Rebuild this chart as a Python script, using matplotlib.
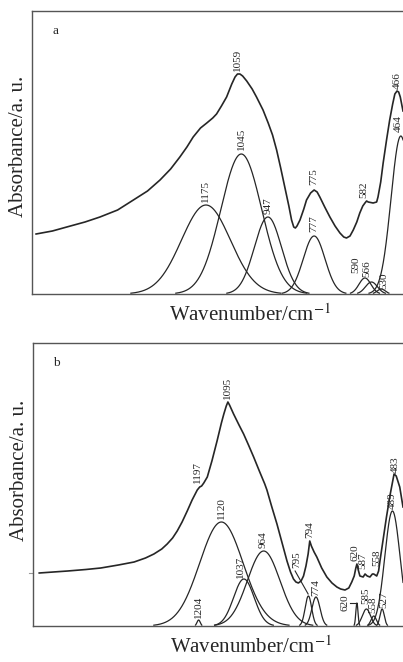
import numpy as np
import matplotlib.pyplot as plt

plt.rcParams['font.family'] = ['Liberation Serif', 'DejaVu Serif']
plt.rcParams['mathtext.fontset'] = 'stix'

# ---- panel a: measured spectrum (wavenumber, absorbance) ----
wn_a = [1800, 1740, 1687, 1620, 1565, 1500, 1442, 1390, 1344, 1305, 1271,
        1245, 1222, 1195, 1172, 1150, 1136, 1118, 1099, 1080, 1068, 1059,
        1050, 1040, 1025, 1005, 989, 965, 946, 930, 915, 900, 885, 870, 860,
        852, 846, 840, 829, 815, 805, 790, 777, 766, 756, 738, 719, 700, 682,
        668, 658, 645, 633, 620, 609, 598, 590, 584, 578, 560, 547, 542, 532,
        523, 510, 499, 488, 480, 472, 466, 460, 450]
abs_a = [0.60, 0.63, 0.67, 0.72, 0.77, 0.84, 0.94, 1.03, 1.14, 1.25, 1.37,
         1.47, 1.57, 1.66, 1.71, 1.76, 1.80, 1.88, 1.97, 2.10, 2.17, 2.20,
         2.20, 2.18, 2.13, 2.05, 1.97, 1.84, 1.71, 1.59, 1.44, 1.26, 1.07,
         0.88, 0.74, 0.67, 0.66, 0.68, 0.74, 0.85, 0.94, 1.01, 1.04, 1.02,
         0.97, 0.87, 0.77, 0.68, 0.61, 0.57, 0.56, 0.58, 0.64, 0.72, 0.81,
         0.88, 0.91, 0.93, 0.92, 0.91, 0.92, 0.97, 1.12, 1.31, 1.55, 1.74,
         1.90, 2.00, 2.03, 2.02, 1.97, 1.83]
# fitted bands: centre, height, width
pk_a = [1175, 1045, 947, 777, 590, 566, 530, 458]
ht_a = [0.89, 1.40, 0.77, 0.58, 0.16, 0.12, 0.05, 1.58]
sd_a = [90, 75, 50, 40, 22, 22, 15, 36]
lab_a = ['1059', '1045', '1175', '947', '775', '777', '582', '466', '464',
         '590', '566', '530']
lab_a_x = [1059, 1045, 1175, 947, 777, 777, 593, 470, 467, 622, 584, 522]
lab_a_y = [2.23, 1.44, 0.92, 0.80, 1.09, 0.62, 0.96, 2.05, 1.62, 0.21, 0.17, 0.05]

# ---- panel b ----
wn_b = [1792, 1740, 1687, 1620, 1565, 1500, 1442, 1400, 1369, 1340, 1320,
        1300, 1283, 1265, 1246, 1228, 1209, 1200, 1193, 1185, 1172, 1155,
        1136, 1120, 1111, 1102, 1096, 1090, 1075, 1055, 1038, 1020, 1001,
        980, 960, 952, 935, 915, 895, 878, 865, 854, 845, 836, 826, 817, 808,
        800, 794, 788, 778, 768, 750, 731, 712, 694, 680, 664, 650, 639, 630,
        624, 620, 615, 609, 597, 590, 582, 572, 563, 558, 547, 540, 535, 523,
        511, 497, 483, 475, 462, 450]
abs_b = [0.53, 0.54, 0.55, 0.565, 0.58, 0.61, 0.64, 0.68, 0.72, 0.77, 0.82,
         0.88, 0.95, 1.04, 1.15, 1.26, 1.36, 1.39, 1.40, 1.43, 1.49, 1.65,
         1.85, 2.03, 2.12, 2.20, 2.24, 2.21, 2.12, 2.01, 1.92, 1.81, 1.69,
         1.55, 1.42, 1.36, 1.20, 1.02, 0.82, 0.65, 0.54, 0.47, 0.44, 0.43,
         0.45, 0.50, 0.60, 0.72, 0.85, 0.80, 0.74, 0.69, 0.58, 0.49, 0.43,
         0.39, 0.37, 0.36, 0.38, 0.44, 0.50, 0.58, 0.62, 0.56, 0.50, 0.49,
         0.52, 0.50, 0.49, 0.52, 0.52, 0.50, 0.55, 0.65, 0.87, 1.09, 1.32,
         1.52, 1.50, 1.39, 1.19]
pk_b = [1204, 1120, 1037, 964, 799, 771, 620, 585, 558, 527, 489]
ht_b = [0.06, 1.04, 0.47, 0.75, 0.30, 0.29, 0.23, 0.17, 0.10, 0.17, 1.15]
sd_b = [6, 80, 38, 60, 12, 15, 4, 15, 10, 8, 28]
lab_b = ['1197', '1095', '1120', '964', '1037', '795', '794', '620', '587',
         '558', '483', '489', '774', '620', '585', '558', '527', '1204']
lab_b_x = [1209, 1098, 1120, 965, 1050, 842, 793, 628, 600, 547, 480, 488,
           771, 664, 589, 561, 522, 1204]
lab_b_y = [1.43, 2.27, 1.07, 0.78, 0.48, 0.58, 0.88, 0.65, 0.57, 0.60, 1.53,
           1.17, 0.30, 0.15, 0.22, 0.13, 0.18, 0.08]

ink = '#262626'
grid = np.linspace(1815, 450, 2000)


def draw(ax, wn, ab, pk, ht, sd, labels, lx, ly, tag):
    ax.plot(wn, ab, color=ink, lw=1.2)
    for c, h, s in zip(pk, ht, sd):
        g = h * np.exp(-(grid - c) ** 2 / (2 * s ** 2))
        g[g < 0.008] = np.nan
        ax.plot(grid, g, color=ink, lw=0.9)
    for t, x, y in zip(labels, lx, ly):
        ax.text(x, y, t, rotation=90, ha='center', va='bottom', fontsize=8,
                color=ink)
    ax.set_xlim(1815, 450)
    ax.set_ylim(0, 2.83)
    ax.set_xticks([])
    ax.set_yticks([])
    for s in ['top', 'left', 'bottom']:
        ax.spines[s].set_color('#555555')
        ax.spines[s].set_linewidth(1.0)
    ax.spines['right'].set_visible(False)
    ax.text(0.054, 0.92, tag, transform=ax.transAxes, fontsize=9.5, color=ink)
    ax.set_xlabel(r'Wavenumber/cm$^{-1}$', fontsize=15, color=ink)
    ax.set_ylabel('Absorbance/a. u.', fontsize=15, color=ink)


fig = plt.figure(figsize=(4.03, 6.62), dpi=100)
ax1 = fig.add_axes([32 / 403, 1 - 294 / 662, 371 / 403, 283 / 662])
ax2 = fig.add_axes([33 / 403, 1 - 626 / 662, 370 / 403, 283 / 662])

draw(ax1, wn_a, abs_a, pk_a, ht_a, sd_a, lab_a, lab_a_x, lab_a_y, 'a')
draw(ax2, wn_b, abs_b, pk_b, ht_b, sd_b, lab_b, lab_b_x, lab_b_y, 'b')

ax1.xaxis.set_label_coords(0.588, -0.035)
ax1.yaxis.set_label_coords(-0.012, 0.52)
ax2.xaxis.set_label_coords(0.588, -0.035)
ax2.yaxis.set_label_coords(-0.012, 0.55)

# leader lines in panel b
ax2.plot([848, 800], [0.55, 0.32], color=ink, lw=0.8)
ax2.plot([645, 623], [0.23, 0.23], color=ink, lw=0.8)
# small stray tick on the left spine of panel b
ax2.plot([-0.012, 0.0], [0.187, 0.187], transform=ax2.transAxes,
         color='#999999', lw=0.8, clip_on=False)

fig.savefig('out.png', dpi=100)
